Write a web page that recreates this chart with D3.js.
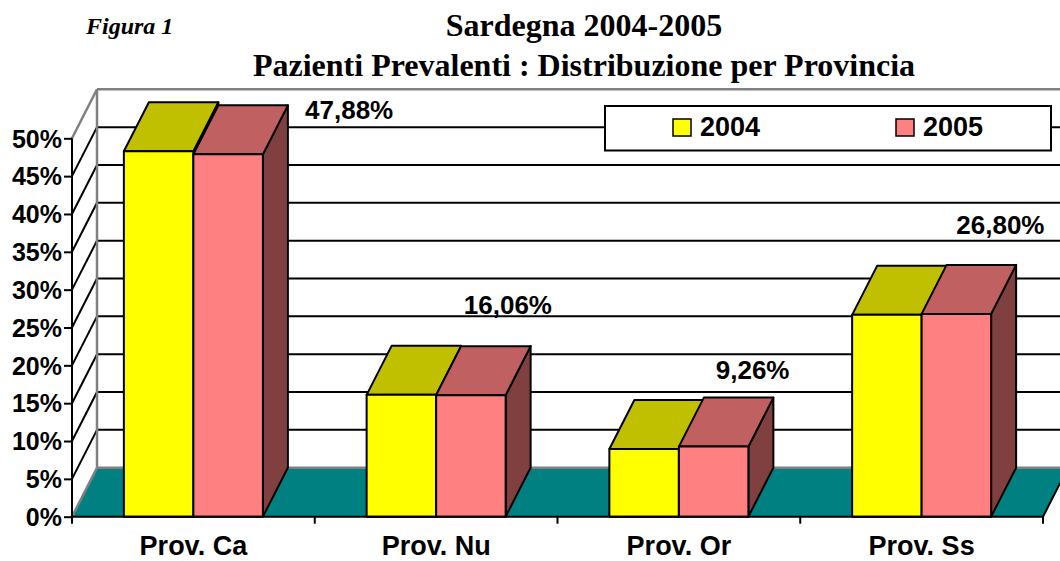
<!DOCTYPE html>
<html>
<head>
<meta charset="utf-8">
<script src="https://cdn.jsdelivr.net/npm/d3@7/dist/d3.min.js"></script>
<style>
  html, body { margin: 0; padding: 0; background: #ffffff; }
  svg { display: block; }
</style>
</head>
<body>
<svg id="chart" width="1060" height="561"></svg>
<script>
// ---------------- data ----------------
const categories = ["Prov. Ca", "Prov. Nu", "Prov. Or", "Prov. Ss"];
const series = ["2004", "2005"];
const values2004 = [48.28, 16.10, 8.95, 26.67];
const values2005 = [47.88, 16.06, 9.26, 26.80];
const dataLabels = ["47,88%", "16,06%", "9,26%", "26,80%"];
const yTicks = [0, 5, 10, 15, 20, 25, 30, 35, 40, 45, 50];
const titleLines = ["Sardegna 2004-2005", "Pazienti Prevalenti : Distribuzione per Provincia"];
const figureLabel = "Figura 1";

// ---------------- layout / style ----------------
const W = 1060, H = 561;
const plot = { left: 72, right: 1043, bottom: 516.7, top: 138.3 };
const depth = { dx: 25, dy: -49 };
const barW = 69.5;
const colors = {
  "2004": { front: "#FFFF00", top: "#C0C000", side: "#808000" },
  "2005": { front: "#FF8080", top: "#C06060", side: "#804040" }
};
const labelShift = [[96, 14], [12, -32], [14, -19], [19, -31]];
const sans = "'Liberation Sans', Arial, sans-serif";
const serif = "'Liberation Serif', 'Times New Roman', serif";

const svg = d3.select("#chart");

const y = d3.scaleLinear().domain([0, 50]).range([plot.bottom, plot.top]);
const x0 = d3.scaleBand().domain(categories).range([plot.left, plot.right]).padding(0);
const x1 = d3.scaleBand().domain(series).range([-barW, barW]).padding(0);

const rows = categories.map((c, i) => ({ cat: c, i, v: { "2004": values2004[i], "2005": values2005[i] } }));

// ---------------- titles ----------------
svg.append("text").attr("x", 86).attr("y", 34)
  .attr("font-family", serif).attr("font-style", "italic").attr("font-weight", "bold")
  .attr("font-size", 24).attr("fill", "#000").text(figureLabel);

svg.selectAll("text.title").data(titleLines).enter().append("text")
  .attr("class", "title")
  .attr("x", 584).attr("y", (d, i) => 36 + i * 40)
  .attr("text-anchor", "middle")
  .attr("font-family", serif).attr("font-weight", "bold").attr("font-size", 32)
  .attr("fill", "#000").text(d => d);

// ---------------- walls ----------------
const gBack = svg.append("g");
const backX0 = plot.left + depth.dx;
const backX1 = plot.right + depth.dx;

// floor
gBack.append("polygon")
  .attr("points", [
    [plot.left, y(0)], [plot.right, y(0)],
    [backX1, y(0) + depth.dy], [backX0, y(0) + depth.dy]
  ].map(p => p.join(",")).join(" "))
  .attr("fill", "#008080").attr("stroke", "none");

// back wall gridlines
gBack.selectAll("line.grid").data(yTicks.filter(t => t > 0 && t < 50)).enter().append("line")
  .attr("x1", backX0).attr("x2", backX1)
  .attr("y1", d => y(d) + depth.dy).attr("y2", d => y(d) + depth.dy)
  .attr("stroke", "#000").attr("stroke-width", 2);

// side wall diagonals
gBack.selectAll("line.diag").data(yTicks.filter(t => t > 0 && t < 50)).enter().append("line")
  .attr("x1", plot.left).attr("x2", backX0)
  .attr("y1", d => y(d)).attr("y2", d => y(d) + depth.dy)
  .attr("stroke", "#000").attr("stroke-width", 2);

// gray wall edges
const grayEdges = [
  [plot.left, y(50), backX0, y(50) + depth.dy],
  [backX0, y(50) + depth.dy, backX1, y(50) + depth.dy],
  [backX0, y(50) + depth.dy, backX0, y(0) + depth.dy],
  [plot.left, y(0), backX0, y(0) + depth.dy],
  [backX0, y(0) + depth.dy, backX1, y(0) + depth.dy]
];
gBack.selectAll("line.edge").data(grayEdges).enter().append("line")
  .attr("x1", d => d[0]).attr("y1", d => d[1]).attr("x2", d => d[2]).attr("y2", d => d[3])
  .attr("stroke", "#808080").attr("stroke-width", 2.5);

// floor right diagonal
gBack.append("line")
  .attr("x1", plot.right).attr("y1", y(0)).attr("x2", backX1).attr("y2", y(0) + depth.dy)
  .attr("stroke", "#000").attr("stroke-width", 2);

// ---------------- legend ----------------
const lg = svg.append("g");
lg.append("rect").attr("x", 605).attr("y", 106).attr("width", 446).attr("height", 44.5)
  .attr("fill", "#fff").attr("stroke", "#000").attr("stroke-width", 2);
const legendItems = series.map((s, i) => ({ s, x: 673 + i * 223 }));
lg.selectAll("rect.sw").data(legendItems).enter().append("rect")
  .attr("x", d => d.x).attr("y", 119).attr("width", 18).attr("height", 17)
  .attr("fill", d => colors[d.s].front).attr("stroke", "#000").attr("stroke-width", 1.5);
lg.selectAll("text.lt").data(legendItems).enter().append("text")
  .attr("x", d => d.x + 27).attr("y", 135.5)
  .attr("font-family", sans).attr("font-weight", "bold").attr("font-size", 27)
  .attr("fill", "#000").text(d => d.s);

// ---------------- bars ----------------
const gBars = svg.append("g");
function pts(a) { return a.map(p => p.join(",")).join(" "); }
rows.forEach(r => {
  series.forEach(s => {
    const v = r.v[s];
    const xl = x0(r.cat) + x0.bandwidth() / 2 + x1(s);
    const xr = xl + x1.bandwidth();
    const yt = y(v), yb = y(0);
    const g = gBars.append("g").attr("stroke", "#000").attr("stroke-width", 2).attr("stroke-linejoin", "round");
    g.append("polygon").attr("fill", colors[s].side)
      .attr("points", pts([[xr, yt], [xr + depth.dx, yt + depth.dy], [xr + depth.dx, yb + depth.dy], [xr, yb]]));
    g.append("polygon").attr("fill", colors[s].top)
      .attr("points", pts([[xl, yt], [xr, yt], [xr + depth.dx, yt + depth.dy], [xl + depth.dx, yt + depth.dy]]));
    g.append("rect").attr("fill", colors[s].front)
      .attr("x", xl).attr("y", yt).attr("width", xr - xl).attr("height", yb - yt);
  });
});

// ---------------- axes ----------------
const yAxis = d3.axisLeft(y).tickValues(yTicks).tickSize(8).tickFormat(d => d + "%");
const gy = svg.append("g").attr("transform", `translate(${plot.left},0)`).call(yAxis);
gy.select(".domain").attr("stroke", "#000").attr("stroke-width", 2)
  .attr("d", `M0,${y(0)}V${y(50)}`);
gy.selectAll(".tick line").attr("stroke", "#000").attr("stroke-width", 2);
gy.selectAll(".tick text")
  .attr("font-family", sans).attr("font-weight", "bold").attr("font-size", 25)
  .attr("fill", "#000").attr("x", -10).attr("dy", "0.35em");

const xAxis = d3.axisBottom(x0).tickSize(0).tickPadding(0);
const gx = svg.append("g").attr("transform", `translate(0,${y(0)})`).call(xAxis);
gx.select(".domain").attr("stroke", "#000").attr("stroke-width", 2)
  .attr("d", `M${plot.left},0H${plot.right}`);
gx.selectAll(".tick text")
  .attr("font-family", sans).attr("font-weight", "bold").attr("font-size", 27)
  .attr("fill", "#000").attr("y", 38.5).attr("dy", 0);
// category separator ticks
gx.selectAll("line.sep").data(categories).enter().append("line")
  .attr("x1", d => x0(d) + x0.bandwidth()).attr("x2", d => x0(d) + x0.bandwidth())
  .attr("y1", 0).attr("y2", 7).attr("stroke", "#000").attr("stroke-width", 2);
gx.append("line").attr("x1", plot.left).attr("x2", plot.left).attr("y1", 0).attr("y2", 7)
  .attr("stroke", "#000").attr("stroke-width", 2);

// ---------------- data labels ----------------
svg.selectAll("text.dl").data(rows).enter().append("text")
  .attr("x", d => x0(d.cat) + x0.bandwidth() / 2 + x1("2005") + x1.bandwidth() / 2 + depth.dx + labelShift[d.i][0])
  .attr("y", d => y(values2005[d.i]) + depth.dy + labelShift[d.i][1])
  .attr("text-anchor", "middle")
  .attr("font-family", sans).attr("font-weight", "bold").attr("font-size", 26)
  .attr("fill", "#000").text(d => dataLabels[d.i]);
</script>
</body>
</html>
